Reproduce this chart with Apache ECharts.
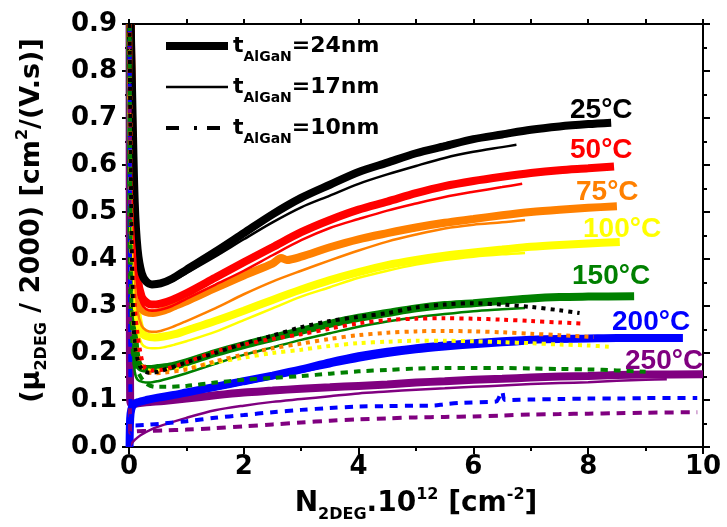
<!DOCTYPE html>
<html><head><meta charset="utf-8">
<script src="https://cdn.jsdelivr.net/npm/echarts@6/dist/echarts.min.js"></script>
<style>html,body{margin:0;padding:0;background:#fff}#c{width:727px;height:527px}</style>
</head><body><div id="c"></div>
<script>
// ---------- DATA ----------
const temperatures = ['25°C', '50°C', '75°C', '100°C', '150°C', '200°C', '250°C'];
const thicknesses = ['24nm', '17nm', '10nm'];
const xTickLabels = ['0', '2', '4', '6', '8', '10'];
const yTickLabels = ['0.0', '0.1', '0.2', '0.3', '0.4', '0.5', '0.6', '0.7', '0.8', '0.9'];

// 25 °C
const t25_24nm = [[0.03,0.9],[0.06,0.72],[0.1,0.52],[0.15,0.42],[0.22,0.37],[0.3,0.352],[0.4,0.346],[0.55,0.348],[0.75,0.358],[1.0,0.377],[1.5,0.415],[2.0,0.455],[2.5,0.495],[3.0,0.53],[3.5,0.558],[4.0,0.585],[4.5,0.605],[5.0,0.625],[5.5,0.64],[6.0,0.655],[6.5,0.665],[7.0,0.675],[7.5,0.682],[8.0,0.687],[8.4,0.69]];
const t25_17nm = [[0.03,0.9],[0.06,0.7],[0.1,0.5],[0.15,0.41],[0.22,0.365],[0.3,0.348],[0.4,0.343],[0.55,0.345],[0.75,0.353],[1.0,0.37],[1.5,0.405],[2.0,0.442],[2.5,0.478],[3.0,0.51],[3.5,0.535],[4.0,0.56],[4.5,0.58],[5.0,0.598],[5.5,0.615],[6.0,0.628],[6.5,0.638],[6.75,0.643]];
const t25_10nm = [[0.01,0.9],[0.05,0.4],[0.1,0.22],[0.2,0.17],[0.35,0.158],[0.5,0.16],[1.0,0.18],[1.5,0.2],[2.0,0.22],[2.5,0.237],[3.0,0.255],[3.5,0.268],[4.0,0.277],[4.5,0.285],[5.0,0.297],[5.5,0.303],[6.0,0.306],[6.5,0.303],[7.0,0.298],[7.5,0.291],[7.85,0.285]];
// 50 °C
const t50_24nm = [[0.03,0.9],[0.06,0.65],[0.1,0.45],[0.15,0.36],[0.22,0.32],[0.3,0.308],[0.4,0.303],[0.55,0.305],[0.75,0.313],[1.0,0.327],[1.5,0.36],[2.0,0.393],[2.5,0.425],[3.0,0.457],[3.5,0.483],[4.0,0.505],[4.5,0.522],[5.0,0.54],[5.5,0.555],[6.0,0.566],[6.5,0.575],[7.0,0.583],[7.5,0.589],[8.0,0.593],[8.45,0.597]];
const t50_17nm = [[0.03,0.9],[0.06,0.62],[0.1,0.42],[0.15,0.34],[0.22,0.305],[0.3,0.293],[0.4,0.29],[0.55,0.292],[0.75,0.3],[1.0,0.315],[1.5,0.345],[2.0,0.375],[2.5,0.408],[3.0,0.44],[3.5,0.466],[4.0,0.485],[4.5,0.503],[5.0,0.518],[5.5,0.532],[6.0,0.543],[6.5,0.553],[6.85,0.56]];
const t50_10nm = [[0.01,0.9],[0.05,0.45],[0.1,0.3],[0.15,0.24],[0.2,0.2],[0.27,0.17],[0.4,0.163],[0.6,0.165],[1.0,0.18],[1.5,0.203],[2.0,0.218],[2.5,0.23],[3.0,0.24],[3.5,0.252],[4.0,0.263],[4.5,0.27],[5.0,0.273],[5.5,0.274],[6.0,0.273],[6.5,0.271],[7.0,0.268],[7.5,0.265],[7.95,0.262]];
// 75 °C
const t75_24nm = [[0.03,0.9],[0.06,0.6],[0.1,0.42],[0.15,0.33],[0.22,0.295],[0.3,0.287],[0.42,0.285],[0.6,0.29],[0.8,0.3],[1.0,0.31],[1.5,0.338],[2.0,0.365],[2.5,0.39],[2.65,0.402],[2.75,0.398],[3.0,0.405],[3.5,0.425],[4.0,0.442],[4.5,0.455],[5.0,0.467],[5.5,0.477],[6.0,0.485],[6.5,0.493],[7.0,0.5],[7.5,0.505],[8.0,0.509],[8.5,0.512]];
const t75_17nm = [[0.03,0.9],[0.06,0.55],[0.1,0.37],[0.15,0.29],[0.22,0.258],[0.3,0.248],[0.4,0.245],[0.55,0.247],[0.75,0.255],[1.0,0.268],[1.5,0.295],[2.0,0.325],[2.5,0.352],[3.0,0.375],[3.5,0.397],[4.0,0.418],[4.5,0.437],[5.0,0.452],[5.5,0.465],[6.0,0.473],[6.5,0.478],[6.9,0.483]];
const t75_10nm = [[0.01,0.9],[0.05,0.4],[0.1,0.25],[0.2,0.18],[0.3,0.162],[0.42,0.157],[0.6,0.158],[1.0,0.165],[1.5,0.182],[2.0,0.197],[2.5,0.21],[3.0,0.22],[3.5,0.23],[4.0,0.238],[4.5,0.243],[5.0,0.246],[5.5,0.247],[6.0,0.246],[6.5,0.244],[7.0,0.241],[7.5,0.238],[8.1,0.234]];
// 100 °C
const t100_24nm = [[0.03,0.9],[0.06,0.55],[0.1,0.36],[0.15,0.28],[0.22,0.245],[0.3,0.236],[0.45,0.233],[0.6,0.235],[0.8,0.24],[1.0,0.248],[1.5,0.268],[2.0,0.29],[2.5,0.313],[3.0,0.335],[3.5,0.355],[4.0,0.372],[4.5,0.387],[5.0,0.398],[5.5,0.407],[6.0,0.414],[6.5,0.42],[7.0,0.426],[7.5,0.43],[8.0,0.433],[8.55,0.436]];
const t100_17nm = [[0.03,0.9],[0.06,0.5],[0.1,0.32],[0.15,0.25],[0.22,0.22],[0.3,0.212],[0.45,0.21],[0.6,0.212],[0.8,0.218],[1.0,0.225],[1.5,0.245],[2.0,0.27],[2.5,0.295],[3.0,0.32],[3.5,0.34],[4.0,0.36],[4.5,0.375],[5.0,0.388],[5.5,0.398],[6.0,0.405],[6.5,0.41],[6.9,0.413]];
const t100_10nm = [[0.01,0.9],[0.05,0.35],[0.1,0.22],[0.2,0.175],[0.3,0.165],[0.42,0.162],[0.6,0.163],[1.0,0.168],[1.5,0.18],[2.0,0.19],[2.5,0.2],[3.0,0.207],[3.5,0.215],[4.0,0.221],[4.5,0.224],[5.0,0.226],[5.5,0.226],[6.0,0.225],[6.5,0.223],[7.0,0.221],[7.5,0.218],[8.0,0.216],[8.4,0.213]];
// 150 °C
const t150_24nm = [[0.02,0.9],[0.04,0.5],[0.06,0.32],[0.1,0.22],[0.15,0.18],[0.22,0.168],[0.35,0.166],[0.5,0.168],[0.75,0.172],[1.0,0.18],[1.5,0.2],[2.0,0.217],[2.5,0.232],[3.0,0.247],[3.5,0.262],[4.0,0.275],[4.5,0.285],[5.0,0.295],[5.5,0.302],[6.0,0.306],[6.5,0.311],[7.0,0.316],[7.5,0.319],[8.0,0.32],[8.8,0.321]];
const t150_17nm = [[0.02,0.9],[0.04,0.4],[0.06,0.22],[0.1,0.16],[0.15,0.143],[0.25,0.138],[0.35,0.137],[0.5,0.14],[0.75,0.148],[1.0,0.157],[1.5,0.177],[2.0,0.196],[2.5,0.212],[3.0,0.228],[3.5,0.242],[4.0,0.256],[4.5,0.267],[5.0,0.276],[5.5,0.283],[6.0,0.289],[6.5,0.293],[6.9,0.296]];
const t150_10nm = [[0.01,0.9],[0.03,0.4],[0.06,0.22],[0.1,0.175],[0.2,0.15],[0.3,0.135],[0.45,0.128],[0.6,0.128],[1.0,0.13],[1.5,0.137],[2.0,0.143],[2.5,0.147],[3.0,0.151],[3.5,0.156],[4.0,0.161],[4.5,0.164],[5.0,0.167],[5.5,0.168],[6.0,0.168],[6.5,0.168],[7.0,0.167],[7.5,0.166],[8.0,0.165],[8.5,0.163],[9.0,0.16]];
// 200 °C
const t200_24nm = [[0.01,0.0],[0.02,0.06],[0.04,0.08],[0.08,0.09],[0.15,0.095],[0.3,0.1],[0.5,0.105],[0.75,0.11],[1.0,0.116],[1.5,0.128],[2.0,0.14],[2.5,0.152],[3.0,0.165],[3.5,0.18],[4.0,0.193],[4.5,0.203],[5.0,0.21],[5.5,0.216],[6.0,0.221],[6.5,0.225],[7.0,0.228],[7.5,0.23],[8.0,0.231],[8.5,0.232],[9.0,0.232],[9.65,0.232]];
const t200_17nm = [[0.01,0.0],[0.03,0.06],[0.06,0.08],[0.15,0.09],[0.3,0.096],[0.5,0.1],[1.0,0.112],[1.5,0.123],[2.0,0.135],[2.5,0.147],[3.0,0.16],[3.5,0.172],[4.0,0.184],[4.5,0.194],[5.0,0.202],[5.5,0.208],[6.0,0.213],[6.5,0.217],[6.9,0.22]];
const t200_10nm = [[0.01,0.9],[0.02,0.3],[0.03,0.05],[0.1,0.046],[0.3,0.047],[0.6,0.05],[1.0,0.055],[1.5,0.062],[2.0,0.068],[2.5,0.074],[3.0,0.079],[3.5,0.083],[4.0,0.086],[4.5,0.087],[5.0,0.088],[5.3,0.088],[5.5,0.091],[5.8,0.094],[6.3,0.096],[6.4,0.097],[6.5,0.118],[6.55,0.1],[7.0,0.101],[7.5,0.102],[8.0,0.103],[8.5,0.103],[9.0,0.104],[9.9,0.104]];
// 250 °C
const t250_24nm = [[0.01,0.9],[0.015,0.3],[0.02,0.1],[0.05,0.09],[0.1,0.092],[0.3,0.095],[0.6,0.098],[1.0,0.103],[1.5,0.11],[2.0,0.116],[2.5,0.12],[3.0,0.124],[3.5,0.127],[4.0,0.13],[4.5,0.133],[5.0,0.137],[5.5,0.14],[6.0,0.143],[6.5,0.145],[7.0,0.148],[7.5,0.15],[8.0,0.151],[8.5,0.153],[9.0,0.154],[10.0,0.155]];
const t250_17nm = [[0.01,0.0],[0.05,0.008],[0.1,0.015],[0.2,0.025],[0.4,0.038],[0.6,0.047],[1.0,0.062],[1.5,0.078],[2.0,0.088],[2.5,0.096],[3.0,0.102],[3.5,0.108],[4.0,0.114],[4.5,0.118],[5.0,0.122],[5.5,0.125],[6.0,0.128],[6.5,0.131],[7.0,0.134],[7.5,0.136],[8.0,0.138],[8.5,0.141],[9.0,0.143],[9.37,0.144]];
const t250_10nm = [[0.01,0.9],[0.015,0.2],[0.02,0.03],[0.1,0.033],[0.3,0.034],[0.6,0.035],[1.0,0.037],[1.5,0.04],[2.0,0.044],[2.5,0.048],[3.0,0.052],[3.5,0.056],[4.0,0.059],[4.5,0.061],[5.0,0.063],[5.5,0.064],[6.0,0.065],[6.5,0.067],[7.0,0.069],[7.5,0.07],[8.0,0.071],[8.5,0.072],[9.0,0.073],[9.9,0.074]];

const seriesData = [
  [t25_24nm, t25_17nm, t25_10nm],
  [t50_24nm, t50_17nm, t50_10nm],
  [t75_24nm, t75_17nm, t75_10nm],
  [t100_24nm, t100_17nm, t100_10nm],
  [t150_24nm, t150_17nm, t150_10nm],
  [t200_24nm, t200_17nm, t200_10nm],
  [t250_24nm, t250_17nm, t250_10nm]
];

// ---------- STYLE ----------
const colors = ['#000000', '#ff0000', '#ff8000', '#ffff00', '#008000', '#0000ff', '#800080'];
const dashPatterns = [[4,5], [4,5], [4,5], [4,5], [7,6], [8,7], [9,7]];
const labelPos = [[570,110],[570,150],[576,192],[583,229],[572,276],[612,322],[625,361]];
const ARIAL = '"Liberation Sans", Arial, sans-serif';
const DJV = '"DejaVu Sans", sans-serif';

const series = [];
for (let j = 0; j < 3; j++) {
  for (let i = temperatures.length - 1; i >= 0; i--) {
    const name = i === 0 ? thicknesses[j] : temperatures[i] + ' ' + thicknesses[j];
    const ls = j === 0 ? { width: 8, color: colors[i] }
             : j === 1 ? { width: 2.5, color: colors[i] }
             : { width: 4, color: colors[i], type: dashPatterns[i] };
    series.push({
      type: 'line', name, data: seriesData[i][j], showSymbol: false, symbol: 'none',
      lineStyle: ls, itemStyle: { color: colors[i] }, smooth: 0.3, z: 2 + j,
      emphasis: { disabled: true }, animation: false
    });
  }
}

const axisCommon = {
  axisLine: { show: true, onZero: false, lineStyle: { color: '#000', width: 2 } },
  splitLine: { show: false }
};
const titleRich = (main, small, subPad, supPad) => ({
  a: { fontSize: main, fontWeight: 'bold', fontFamily: DJV, color: '#000', lineHeight: main + 4 },
  s: { fontSize: small, fontWeight: 'bold', fontFamily: DJV, color: '#000', lineHeight: small, padding: [subPad,0,0,0] },
  p: { fontSize: small, fontWeight: 'bold', fontFamily: DJV, color: '#000', lineHeight: small, padding: [0,0,supPad,0] }
});

const chart = echarts.init(document.getElementById('c'), null, { renderer: 'canvas' });
chart.setOption({
  animation: false,
  backgroundColor: '#fff',
  grid: { left: 129, right: 24, top: 24, bottom: 80, containLabel: false, outerBoundsMode: 'none' },
  xAxis: [{
    ...axisCommon, type: 'value', min: 0, max: 10, interval: 2, position: 'bottom',
    axisTick: { show: true, inside: false, length: 7, lineStyle: { width: 2, color: '#000' } },
    minorTick: { show: true, splitNumber: 2, length: 4, lineStyle: { width: 2, color: '#000' } },
    axisLabel: { formatter: (v) => xTickLabels[Math.round(v / 2)], fontSize: 26, fontWeight: 'bold', color: '#000', fontFamily: DJV, margin: 7 },
    name: '{a|N}{s|2DEG}{a|.10}{p|12}{a| [cm}{p|-2}{a|]}',
    nameLocation: 'middle', nameGap: 30,
    nameTextStyle: { rich: titleRich(28, 16, 22, 18) }
  }, {
    ...axisCommon, type: 'value', min: 0, max: 10, interval: 2, position: 'top',
    axisTick: { show: true, inside: false, length: 5, lineStyle: { width: 2, color: '#000' } },
    minorTick: { show: true, splitNumber: 2, length: 5, lineStyle: { width: 2, color: '#000' } },
    axisLabel: { show: false }
  }],
  yAxis: [{
    ...axisCommon, type: 'value', min: 0, max: 0.9, interval: 0.1, position: 'left',
    axisTick: { show: true, inside: false, length: 7, lineStyle: { width: 2, color: '#000' } },
    minorTick: { show: true, splitNumber: 2, length: 4, lineStyle: { width: 2, color: '#000' } },
    axisLabel: { formatter: (v) => yTickLabels[Math.round(v * 10)], fontSize: 26, fontWeight: 'bold', color: '#000', fontFamily: DJV, margin: 12 },
    name: '{a|(μ}{s|2DEG}{a| / 2000) [cm}{p|2}{a|/(V.s)]}',
    nameLocation: 'middle', nameGap: 82,
    nameTextStyle: { padding: [0,0,0,30], rich: titleRich(27, 16, 21, 17) }
  }, {
    ...axisCommon, type: 'value', min: 0, max: 0.9, interval: 0.1, position: 'right',
    axisTick: { show: true, inside: false, length: 7, lineStyle: { width: 2, color: '#000' } },
    minorTick: { show: true, splitNumber: 2, length: 4, lineStyle: { width: 2, color: '#000' } },
    axisLabel: { show: false }
  }],
  legend: {
    orient: 'vertical', left: 162, top: 28, padding: 0, itemGap: 5,
    itemWidth: 62, itemHeight: 14, selectedMode: false,
    itemStyle: { opacity: 0, borderWidth: 0, color: 'rgba(0,0,0,0)' },
    data: [
      { name: '24nm', lineStyle: { width: 8 }, itemStyle: { opacity: 0 } },
      { name: '17nm', lineStyle: { width: 2.5 }, itemStyle: { opacity: 0 } },
      { name: '10nm', lineStyle: { width: 4, type: [13,15,3,10] }, itemStyle: { opacity: 0 } }
    ],
    lineStyle: { width: 'inherit' },
    formatter: (n) => '{t|t}{s|AlGaN}{t|=' + n + '}',
    textStyle: { rich: {
      t: { fontSize: 22, fontWeight: 'bold', fontFamily: DJV, color: '#000', lineHeight: 30 },
      s: { fontSize: 14, fontWeight: 'bold', fontFamily: DJV, color: '#000', lineHeight: 14, padding: [22,0,0,0] }
    } }
  },
  graphic: temperatures.map((t, i) => ({
    type: 'text', x: labelPos[i][0], y: labelPos[i][1], z: 100,
    style: { text: t, fill: colors[i], font: 'bold 28px ' + ARIAL, align: 'left', verticalAlign: 'middle' }
  })),
  series
});
</script></body></html>
